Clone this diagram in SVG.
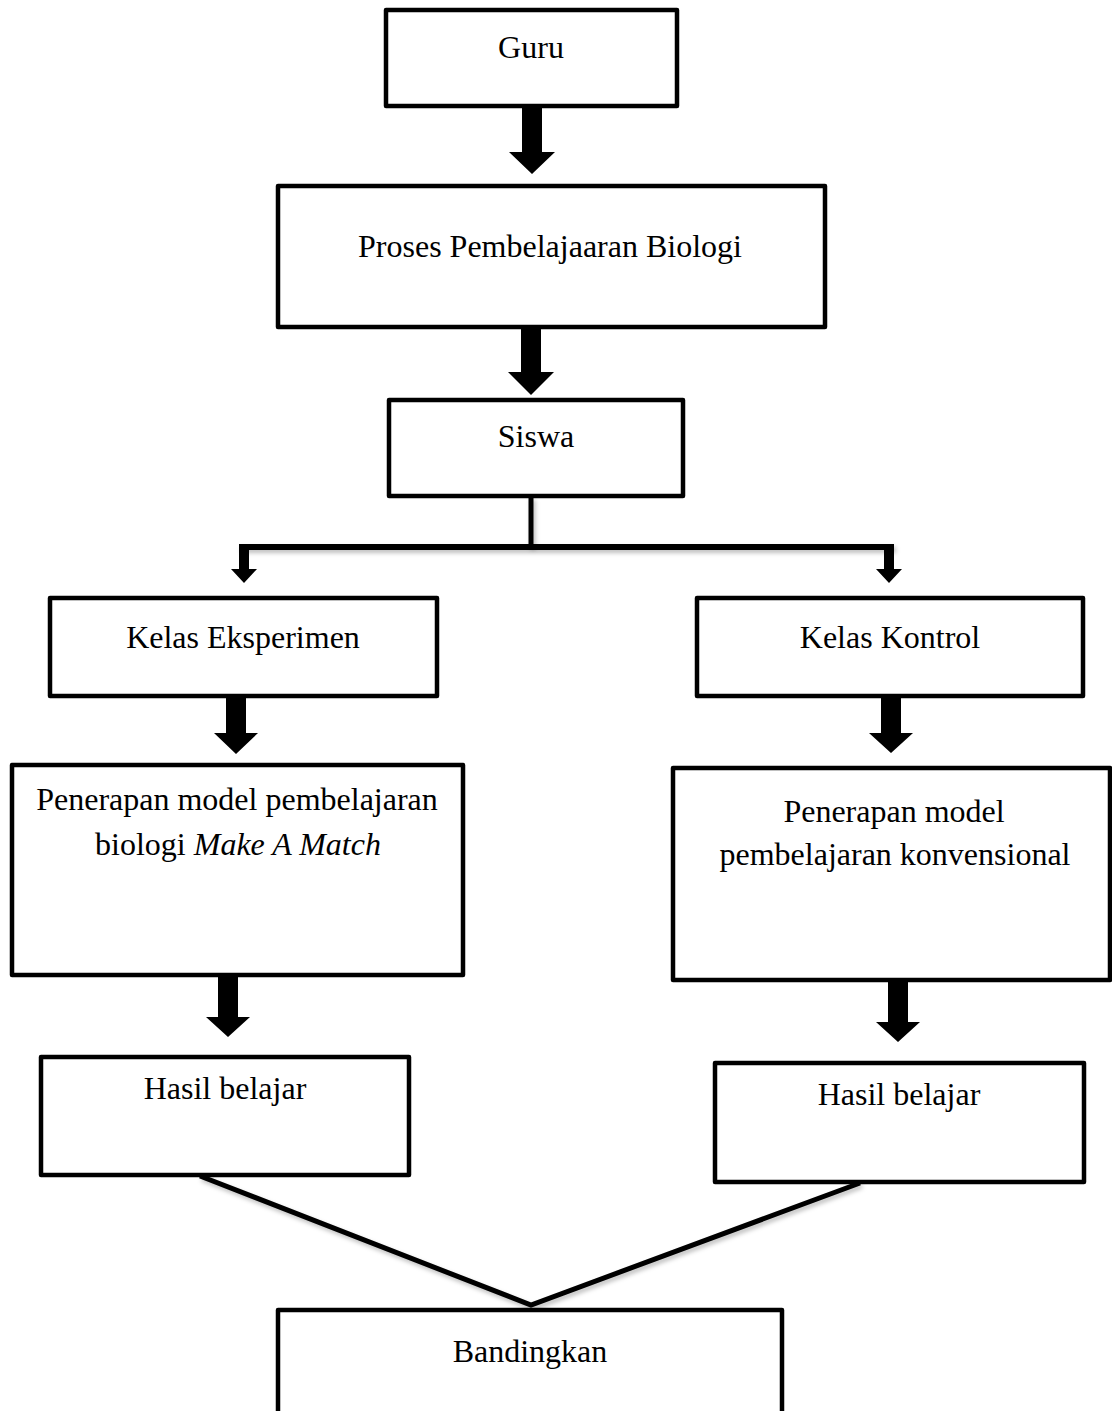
<svg xmlns="http://www.w3.org/2000/svg" width="1112" height="1411" viewBox="0 0 1112 1411">
<style>
.box{fill:#fff;stroke:#000;stroke-width:4.5;stroke-linejoin:round}
.lbl{font-family:"Liberation Serif","Times New Roman",serif;font-size:32px;fill:#000;text-anchor:middle}
.arrow{fill:#000}
.line{fill:none;stroke:#000;stroke-width:5;filter:url(#sh)}
</style>
<defs>
<filter id="sh" filterUnits="userSpaceOnUse" x="0" y="0" width="1112" height="1411">
<feDropShadow dx="2" dy="3" stdDeviation="2" flood-color="#000" flood-opacity="0.25"/>
</filter>
</defs>
<rect width="1112" height="1411" fill="#fff"/>
<g id="connectors">
<polygon class="arrow" points="522,106 542,106 542,152 555,152 532,174 509,152 522,152"/>
<polygon class="arrow" points="521,327 541,327 541,372 554,372 531,395 508,372 521,372"/>
<path class="line" d="M531,497 V547"/>
<path class="line" d="M239,547 H894" style="stroke-width:6"/>
<polygon class="arrow" points="239,544 249,544 249,569 257,569 244,583 231,569 239,569"/>
<polygon class="arrow" points="884,544 894,544 894,569 902,569 889,583 876,569 884,569"/>
<polygon class="arrow" points="226,697 246,697 246,733 258,733 236,754 214,733 226,733"/>
<polygon class="arrow" points="881,697 901,697 901,733 913,733 891,753 869,733 881,733"/>
<polygon class="arrow" points="218,975 238,975 238,1017 250,1017 228,1037 206,1017 218,1017"/>
<polygon class="arrow" points="888,980 908,980 908,1022 920,1022 898,1042 876,1022 888,1022"/>
<path class="line" d="M200,1176 L531,1305 L860,1183"/>
</g>
<g id="guru"><rect class="box" x="386" y="10" width="291" height="96"/><text class="lbl" x="531" y="58">Guru</text></g>
<g id="proses"><rect class="box" x="278" y="186" width="547" height="141"/><text class="lbl" x="550" y="257">Proses Pembelajaaran Biologi</text></g>
<g id="siswa"><rect class="box" x="389" y="400" width="294" height="96"/><text class="lbl" x="536" y="447">Siswa</text></g>
<g id="kelas-eksperimen"><rect class="box" x="50" y="598" width="387" height="98"/><text class="lbl" x="243" y="648">Kelas Eksperimen</text></g>
<g id="kelas-kontrol"><rect class="box" x="697" y="598" width="386" height="98"/><text class="lbl" x="890" y="648">Kelas Kontrol</text></g>
<g id="penerapan-eksperimen"><rect class="box" x="12" y="765" width="451" height="210"/><text class="lbl" x="237" y="810">Penerapan model pembelajaran</text><text class="lbl" x="238" y="855">biologi <tspan font-style="italic">Make A Match</tspan></text></g>
<g id="penerapan-kontrol"><rect class="box" x="673" y="768" width="437" height="212"/><text class="lbl" x="894" y="822">Penerapan model</text><text class="lbl" x="895" y="865">pembelajaran konvensional</text></g>
<g id="hasil-eksperimen"><rect class="box" x="41" y="1057" width="368" height="118"/><text class="lbl" x="225" y="1099">Hasil belajar</text></g>
<g id="hasil-kontrol"><rect class="box" x="715" y="1063" width="369" height="119"/><text class="lbl" x="899" y="1105">Hasil belajar</text></g>
<g id="bandingkan"><rect class="box" x="278" y="1310" width="504" height="130"/><text class="lbl" x="530" y="1362">Bandingkan</text></g>
</svg>
